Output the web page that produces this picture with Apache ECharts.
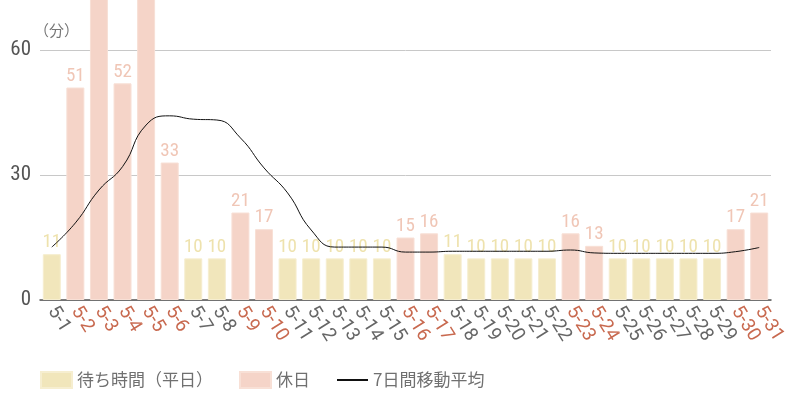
<!DOCTYPE html>
<html>
<head>
<meta charset="utf-8">
<script src="https://cdn.jsdelivr.net/npm/echarts@6/dist/echarts.min.js"></script>
<style>
  html, body { margin: 0; padding: 0; background: #fff; }
  #chart { width: 800px; height: 400px; }
</style>
</head>
<body>
<div id="chart"></div>
<script>
  // 日付と種別（1 = 休日）
  var days = ['5-1','5-2','5-3','5-4','5-5','5-6','5-7','5-8','5-9','5-10','5-11','5-12','5-13','5-14','5-15','5-16',
              '5-17','5-18','5-19','5-20','5-21','5-22','5-23','5-24','5-25','5-26','5-27','5-28','5-29','5-30','5-31'];
  var holiday = [0,1,1,1,1,1,0,0,1,1,0,0,0,0,0,1,1,0,0,0,0,0,1,1,0,0,0,0,0,1,1];
  // 待ち時間（分）5-3, 5-5 は上端で切れているので推定
  var waitTimes = [11,51,74,52,76,33,10,10,21,17,10,10,10,10,10,15,16,11,10,10,10,10,16,13,10,10,10,10,10,17,21];
  // 7日間移動平均
  var movingAvg = [12.7,18.5,26.4,32,42,44.2,43.4,43.2,38.9,31.7,25.7,16.8,12.7,12.7,12.7,11.5,11.5,11.7,11.7,11.7,11.7,11.7,
                   12,11.3,11.2,11.2,11.2,11.2,11.2,11.6,12.6];

  var weekdayColor = '#f1e6bb';
  var holidayColor = '#f5d4c8';
  var numFont = '"Roboto Condensed",Roboto,sans-serif';
  var jpFont = '"Noto Sans CJK JP",sans-serif';

  var weekdayData = [], holidayData = [], xData = [];
  for (var i = 0; i < days.length; i++) {
    weekdayData.push(holiday[i] ? '-' : waitTimes[i]);
    holidayData.push(holiday[i] ? waitTimes[i] : '-');
    xData.push({ value: days[i], textStyle: { color: holiday[i] ? '#c8694f' : '#666' } });
  }

  var myChart = echarts.init(document.getElementById('chart'));
  var option = {
    animation: false,
    grid: { left: 40, right: 29, top: 50, bottom: 100 },
    legend: {
      left: 40,
      top: 371,
      padding: 0,
      itemWidth: 31,
      itemHeight: 16,
      itemGap: 26,
      textStyle: { color: '#707070', fontSize: 17, fontFamily: jpFont },
      data: [
        { name: '待ち時間（平日）', icon: 'rect' },
        { name: '休日', icon: 'rect' },
        { name: '7日間移動平均', itemStyle: { opacity: 0 }, lineStyle: { width: 2, color: '#111' } }
      ]
    },
    xAxis: {
      type: 'category',
      data: xData,
      axisLine: { lineStyle: { color: '#555', width: 1.5 } },
      axisTick: { show: false },
      axisLabel: { interval: 0, rotate: -58, fontSize: 19, margin: 8, fontFamily: 'Roboto, sans-serif' }
    },
    yAxis: {
      type: 'value',
      min: 0,
      max: 60,
      interval: 30,
      name: '（分）',
      nameLocation: 'end',
      nameGap: 12,
      nameTextStyle: { color: '#777', fontSize: 15, align: 'left', padding: [0, 0, 0, -6], fontFamily: jpFont },
      axisLine: { show: false },
      axisTick: { show: false },
      axisLabel: { color: '#555', fontSize: 21, margin: 9, fontFamily: numFont },
      splitLine: { lineStyle: { color: '#c8c8c8', width: 1 } }
    },
    series: [
      {
        name: '待ち時間（平日）',
        type: 'bar',
        stack: 'w',
        barWidth: 18,
        clip: false,
        data: weekdayData,
        itemStyle: { color: weekdayColor, borderColor: '#f6eed0', borderWidth: 1 },
        label: { show: true, position: 'top', distance: 2, color: '#eee2ad', fontSize: 19, fontFamily: numFont }
      },
      {
        name: '休日',
        type: 'bar',
        stack: 'w',
        barWidth: 18,
        clip: false,
        data: holidayData,
        itemStyle: { color: holidayColor, borderColor: '#f8e0d6', borderWidth: 1 },
        label: { show: true, position: 'top', distance: 2, color: '#f0c6b6', fontSize: 19, fontFamily: numFont }
      },
      {
        name: '7日間移動平均',
        type: 'line',
        data: movingAvg,
        smooth: true,
        showSymbol: false,
        symbol: 'none',
        z: 3,
        lineStyle: { color: '#111', width: 1 },
        itemStyle: { color: '#111' }
      }
    ]
  };
  myChart.setOption(option);
</script>
</body>
</html>
